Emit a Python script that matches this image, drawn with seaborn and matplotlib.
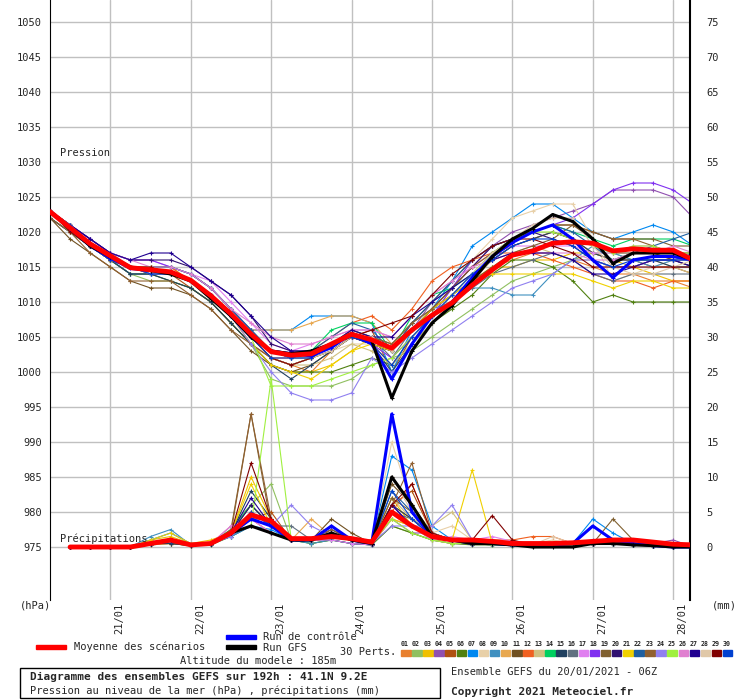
import numpy as np
import pandas as pd
import seaborn as sns
import matplotlib.pyplot as plt
from matplotlib.patches import Rectangle
from matplotlib.transforms import blended_transform_factory

# hours since 20/01/2021 06Z, every 6h
hours = list(range(0, 193, 6))
precip_hours = hours[1:]
day_labels = ['21/01', '22/01', '23/01', '24/01', '25/01', '26/01', '27/01', '28/01']
day_hours = [18, 42, 66, 90, 114, 138, 162, 186]

member_colors = ['#e8802f', '#90c060', '#f0c000', '#9050b0', '#b05010', '#508010', '#0088f0', '#e8d0a8',
                 '#4090c0', '#e8a850', '#705020', '#f06020', '#d0c080', '#00d060', '#204060', '#607080',
                 '#e080f0', '#8030f0', '#806030', '#301070', '#f0d000', '#2060a0', '#906030', '#9080f0',
                 '#a0f040', '#e080d0', '#200090', '#e0c8a8', '#800000', '#0040d0']

pressure = [
    [1023,1020,1018,1016,1015,1014,1014,1013,1011,1008,1005,1002,1001,1000,1003,1005,1004,1001,1005,1008,1010,1013,1015,1016,1017,1017,1016,1015,1014,1014,1013,1013,1012],
    [1022,1020,1018,1016,1014,1013,1013,1012,1010,1007,1004,999,998,998,998,999,1001,1002,1003,1005,1007,1009,1011,1013,1014,1015,1016,1017,1017,1016,1016,1016,1015],
    [1023,1021,1018,1016,1015,1015,1015,1013,1011,1008,1004,1001,1000,1000,1001,1003,1005,1004,1007,1009,1011,1013,1015,1015,1016,1016,1017,1017,1016,1015,1014,1013,1013],
    [1023,1021,1019,1017,1015,1015,1015,1014,1012,1009,1006,1003,1002,1003,1004,1005,1004,1003,1006,1010,1012,1015,1018,1020,1021,1022,1023,1024,1026,1026,1026,1025,1022],
    [1022,1020,1018,1016,1014,1014,1014,1012,1010,1007,1004,1002,1001,1002,1003,1005,1006,1000,1005,1008,1011,1014,1016,1018,1019,1020,1019,1017,1016,1016,1015,1015,1014],
    [1023,1020,1018,1016,1014,1014,1013,1012,1010,1007,1004,1001,1000,1000,1000,1001,1002,1001,1004,1007,1009,1011,1014,1016,1016,1015,1013,1010,1011,1010,1010,1010,1010],
    [1023,1021,1018,1016,1015,1015,1015,1014,1012,1009,1006,1006,1006,1008,1008,1008,1007,1000,1006,1009,1013,1018,1020,1022,1024,1024,1022,1020,1019,1020,1021,1020,1018],
    [1023,1021,1018,1017,1015,1015,1015,1014,1012,1009,1006,1003,1002,1002,1003,1004,1004,1002,1005,1008,1012,1016,1019,1022,1023,1024,1024,1019,1013,1014,1015,1016,1016],
    [1022,1020,1018,1016,1014,1014,1014,1013,1011,1008,1005,1003,1002,1003,1004,1006,1005,1004,1007,1009,1010,1012,1012,1011,1011,1014,1016,1018,1017,1016,1015,1016,1017],
    [1023,1021,1018,1016,1015,1015,1015,1014,1012,1009,1006,1006,1006,1007,1008,1008,1007,1004,1006,1009,1012,1015,1017,1018,1019,1020,1019,1017,1016,1017,1017,1016,1015],
    [1022,1019,1017,1015,1013,1012,1012,1011,1009,1006,1003,1001,1000,1001,1003,1005,1004,1003,1007,1010,1013,1016,1018,1019,1020,1021,1021,1019,1017,1017,1017,1016,1016],
    [1023,1021,1018,1016,1015,1015,1015,1013,1011,1008,1005,1002,1002,1003,1005,1007,1008,1006,1009,1013,1015,1016,1017,1017,1017,1016,1015,1014,1013,1013,1012,1013,1013],
    [1023,1020,1018,1016,1015,1014,1014,1013,1011,1008,1005,1002,1001,1001,1002,1004,1003,1001,1004,1007,1010,1013,1016,1017,1018,1017,1016,1016,1015,1015,1016,1015,1014],
    [1023,1021,1018,1016,1015,1015,1015,1014,1012,1009,1006,1003,1002,1003,1006,1007,1007,1003,1008,1011,1012,1014,1017,1019,1020,1021,1020,1019,1018,1019,1019,1019,1018],
    [1022,1020,1018,1016,1014,1014,1013,1012,1010,1007,1004,1001,999,1001,1003,1005,1004,1000,1004,1008,1011,1014,1016,1018,1019,1020,1019,1017,1016,1016,1016,1015,1015],
    [1023,1021,1018,1016,1015,1014,1014,1013,1011,1008,1005,1003,1002,1002,1003,1005,1005,1002,1006,1008,1010,1012,1014,1015,1016,1017,1016,1014,1013,1014,1014,1014,1014],
    [1023,1021,1019,1017,1016,1016,1015,1014,1013,1010,1007,1004,1003,1004,1005,1006,1006,1005,1008,1011,1013,1015,1017,1018,1018,1018,1018,1017,1017,1018,1018,1017,1017],
    [1023,1021,1019,1017,1016,1016,1015,1014,1012,1009,1006,1003,1002,1003,1004,1005,1004,1002,1005,1008,1012,1016,1018,1019,1020,1021,1022,1024,1026,1027,1027,1026,1024],
    [1023,1021,1018,1016,1015,1014,1014,1013,1011,1008,1005,1002,1001,1002,1003,1005,1005,1003,1006,1009,1011,1013,1015,1017,1018,1019,1021,1020,1019,1019,1019,1018,1018],
    [1023,1021,1019,1017,1016,1016,1016,1015,1013,1011,1008,1004,1003,1003,1004,1005,1004,1003,1006,1009,1012,1015,1018,1019,1020,1019,1018,1016,1015,1015,1016,1016,1015],
    [1023,1021,1018,1016,1015,1015,1014,1013,1011,1008,1004,1001,1000,999,1001,1003,1004,1003,1006,1009,1011,1013,1014,1014,1014,1014,1014,1013,1012,1013,1013,1012,1012],
    [1023,1021,1018,1016,1015,1015,1015,1014,1012,1009,1006,1003,1002,1003,1005,1007,1006,1003,1007,1010,1013,1016,1018,1019,1020,1021,1020,1018,1016,1017,1018,1019,1020],
    [1022,1020,1017,1015,1013,1013,1013,1011,1009,1006,1004,1002,1001,1002,1004,1006,1005,1004,1007,1009,1012,1015,1017,1019,1020,1021,1021,1020,1019,1019,1018,1017,1017],
    [1023,1020,1018,1016,1015,1014,1014,1013,1011,1008,1004,1000,997,996,996,997,1002,1000,1002,1004,1006,1008,1010,1012,1013,1014,1016,1016,1015,1015,1016,1016,1016],
    [1023,1020,1018,1016,1015,1015,1014,1013,1011,1008,1005,998,998,998,999,1000,1001,1002,1005,1008,1011,1014,1017,1019,1020,1020,1019,1018,1017,1018,1018,1017,1017],
    [1023,1021,1018,1017,1016,1015,1015,1014,1012,1009,1007,1005,1004,1004,1005,1006,1006,1005,1008,1011,1013,1015,1016,1017,1017,1017,1017,1016,1016,1017,1017,1018,1017],
    [1023,1021,1019,1017,1016,1017,1017,1015,1013,1011,1008,1005,1003,1003,1004,1006,1005,1005,1008,1010,1012,1014,1016,1017,1017,1017,1016,1014,1014,1015,1016,1016,1015],
    [1023,1021,1018,1016,1015,1015,1014,1013,1011,1008,1005,1002,1001,1002,1003,1005,1005,1003,1006,1008,1011,1014,1017,1019,1021,1022,1022,1018,1015,1014,1014,1015,1016],
    [1023,1020,1018,1016,1015,1015,1014,1013,1011,1008,1005,1002,1001,1002,1004,1005,1006,1007,1008,1011,1014,1016,1018,1019,1019,1018,1017,1015,1015,1015,1015,1015,1015],
    [1023,1021,1018,1016,1015,1014,1014,1013,1011,1008,1005,1002,1002,1002,1004,1005,1004,1001,1005,1008,1011,1014,1016,1018,1019,1019,1018,1016,1015,1016,1016,1016,1016],
]

precip = [
    [0,0,0,0,.5,1,.3,.5,2,5,3,1,1,1.5,1,.5,6,4,1.5,1,.5,.5,.3,.3,.3,.5,.8,.8,.5,.3,.2,0],
    [0,0,0,0,.3,.5,.2,.4,3,6,9,1,.5,1,.5,.3,3,2,1,.5,.5,.3,.2,.2,.3,.3,.5,.5,.3,.2,0,0],
    [0,0,0,0,1,1.5,.5,1,2,10,4,1,1,2,1,.5,7,3,1,1,.5,.5,.3,.5,.5,.3,.5,.5,.3,.2,.2,0],
    [0,0,0,0,.5,1,.3,.5,1.5,3,2,1,1,2,1,.3,4,2,2,1,.5,.5,.5,.3,.3,.5,1,1,.5,.5,1,0],
    [0,0,0,0,.5,.8,.2,.5,2,4,5,1,1,1.5,1,1,6,8,2,1,.5,.5,.3,.3,.3,.5,.5,.8,.5,.3,.2,0],
    [0,0,0,0,.5,.5,.2,.3,1.5,3,2,1,.5,1,.5,.3,3,2,1,.5,.3,.3,.2,.2,.3,.3,.5,.5,.3,.2,0,0],
    [0,0,0,0,1,2,.5,.5,1.5,3,2.5,1,1,1.5,1,.5,13,11,3,1,.5,.5,.3,.3,.5,.5,4,2,.5,.3,.2,0],
    [0,0,0,0,.5,1,.3,.5,2,4,2,1,1,2,1,.5,15,6,2,3,1,.5,.3,.5,1,.5,.5,.8,.5,.3,.2,0],
    [0,0,0,0,1.5,2.5,.3,.5,1.5,3,2,1,.5,1,.5,.3,6,3,1,.5,.5,.3,.2,.2,.3,.3,.5,.5,.3,.2,0,0],
    [0,0,0,0,.5,1,.3,.5,2,3,2,1,4,1.5,1,.5,4,3,1,.5,.5,.3,.3,.3,.3,.5,.5,.8,.5,.3,.2,0],
    [0,0,0,0,.5,.5,.3,.5,2,6,3,1,1,4,2,.5,9,6,2,1,.5,.5,.3,.3,.3,.5,.5,.5,.3,.2,0,0],
    [0,0,0,0,.3,.5,.2,.5,2,4,2,1,1,1.5,1,.5,5,9,2,1,1,1,1,1.5,1.5,.5,.5,.5,.3,.2,0,0],
    [0,0,0,0,.5,1,.3,.5,2,5,3,1,1,3,1,.5,7,4,3,5,1,.5,.3,.3,.5,.5,.8,.8,.5,.3,.2,0],
    [0,0,0,0,.5,.8,.3,.5,2.5,6,3,1,1,1.5,1,.3,5,3,1.5,1,1,.5,.3,.3,.3,.5,.5,.5,.3,.2,0,0],
    [0,0,0,0,.5,.5,.2,.5,2,8,4,1,1,1,.5,.3,6,4,1.5,1,.5,.3,.2,.2,.3,.3,.5,.5,.3,.2,0,0],
    [0,0,0,0,.5,.8,.3,.5,1.5,5,3,3,1,1.5,1,.5,5,4,2,1,.5,.5,.3,.3,.3,.5,.5,.5,.3,.2,0,0],
    [0,0,0,0,.8,1,.3,.5,3,4,2,1,1,1,.5,.3,4,3,1,1.5,1,1.5,.8,.3,.3,.5,.5,.8,.5,.3,.2,0],
    [0,0,0,0,.5,.8,.3,.5,2,3,2,1,1,1.5,1,.5,6,3,2,1,.5,.5,.3,.3,.5,.5,.5,.5,.3,.2,0,0],
    [0,0,0,0,.5,.8,.3,.5,2.5,19,3,1,1,2,1,.5,7,5,2,1,.5,.5,.3,.3,.3,.5,.5,4,1,.5,.2,0],
    [0,0,0,0,.5,1,.3,.5,2,6,3,1,1,2.5,1,.5,5,3,1.5,1,.5,.5,.3,.3,.3,.5,.5,.8,.5,.3,.2,0],
    [0,0,0,0,1,2,.5,.5,2,9,3,1,1,1.5,1,.5,4,3,1.5,1,11,.5,.3,.3,.5,.5,.8,.5,.3,.2,.2,0],
    [0,0,0,0,.5,1,.3,.5,2,4,4,1,1,2,1,.5,8,5,1.5,1,.5,.3,.3,.3,.3,.5,.5,.5,.3,.2,0,0],
    [0,0,0,0,.5,.8,.3,.5,2,19,4,1,1,2.5,1,.5,6,12,2,1,.5,.5,.3,.3,.3,.5,.5,.8,.5,.3,.2,0],
    [0,0,0,0,.5,1,.3,.5,1.5,4,3,6,3,1.5,1,.5,3,3,3,6,1,.5,.3,.3,.3,.5,.5,.5,.3,.2,0,0],
    [0,0,0,0,.5,1,.3,.5,2,3,24,1,1,1.5,1,.5,4,2,1,.5,.5,.3,.2,.2,.3,.3,.5,.5,.3,.2,0,0],
    [0,0,0,0,.5,1,.3,.5,3,4,3,1,1,1.5,1,.5,5,3,1.5,1,1,1,.5,.5,.5,.5,.8,.8,.5,.3,.2,0],
    [0,0,0,0,.5,.8,.3,.5,2,7,3,1,1,2,1,.5,6,3,1.5,1,.5,.5,.3,.3,.3,.5,.5,.5,.3,.2,0,0],
    [0,0,0,0,.5,1,.3,.5,2,5,3,1,1,1.5,1,.5,10,5,2,1,.5,.5,.3,.3,1.5,.5,.5,.5,.3,.2,0,0],
    [0,0,0,0,.5,1,.3,.5,2,12,4,1,1,1.5,1,.5,6,9,2,1,1,4.5,1,.3,.3,.5,.5,.8,.5,.3,.2,0],
    [0,0,0,0,.5,.8,.3,.5,2,5,3,1,1,1.5,1,.5,8,4,1.5,1,.5,.5,.3,.3,.3,.5,.5,.5,.3,.2,0,0],
]

control_p = [1023,1020.5,1018,1016.3,1014.8,1014.5,1014.3,1013,1011,1008,1005,1003,1002.6,1002.3,1003.5,1005.5,1004,999,1004,1008,1010,1013.5,1016.5,1018.5,1020,1021,1019,1016,1013.5,1016,1016.5,1016.5,1016]
gfs_p = [1023,1020.5,1018,1016.5,1015,1014.5,1014,1013,1010.5,1008,1005,1003,1002.6,1003,1004,1005.5,1004.5,996.3,1003,1007,1009.5,1013,1016.5,1019,1020.5,1022.5,1021.5,1019,1015.5,1017,1017,1017,1016]
mean_p = [1022.9,1020.6,1018.3,1016.6,1014.9,1014.6,1014.3,1013.1,1010.9,1008.3,1005.4,1002.9,1002.4,1002.6,1004,1005.4,1004.6,1003.4,1006,1008.1,1009.9,1012.4,1014.6,1016.7,1017.3,1018.4,1018.6,1018.4,1017.3,1017.6,1017.4,1017.4,1016]
control_r = [0,0,0,0,.5,1,.3,.5,2,4,3,1,1,3,1,.5,19,5,1.5,1,.5,.5,.3,.3,.3,.5,3,1,.5,.2,0,0]
gfs_r = [0,0,0,0,.5,1,.3,.5,2,3,2,1,1,2,1,.5,10,6,1.5,1,.5,.5,.3,0,0,0,.5,.5,.3,.2,0,0]
mean_r = [0,0,0,0,.5,1,.3,.5,2,4.6,3.7,1.2,1.2,1.5,1.2,.7,5,3,1.5,1,1,.8,.5,.5,.5,.6,.8,1,1,.7,.4,.3]

sns.set_style('white')
plt.rcParams['font.family'] = ['DejaVu Sans Mono']
fig = plt.figure(figsize=(7.4, 7.0), dpi=100)
ax = fig.add_axes([50 / 740, 1 - 600 / 700, 640 / 740, 600 / 700])


def draw(x, y, color, lw, marker='+', ms=3, z=2):
    sns.lineplot(x=x, y=y, color=color, lw=lw, marker=marker, markersize=ms,
                 markeredgewidth=0.8, markeredgecolor=color, ax=ax, zorder=z)


for col, p, r in zip(member_colors, pressure, precip):
    draw(hours, p, col, 0.8)
    draw(precip_hours, [975 + v for v in r], col, 0.8)

draw(hours, control_p, '#0000ff', 2.2, z=4)
draw(precip_hours, [975 + v for v in control_r], '#0000ff', 2.2, z=4)
draw(hours, gfs_p, 'black', 2.2, z=4)
draw(precip_hours, [975 + v for v in gfs_r], 'black', 2.2, z=4)
draw(hours, mean_p, '#ff0000', 3.5, marker=None, z=5)
draw(precip_hours, [975 + v for v in mean_r], '#ff0000', 3.5, marker=None, z=5)

ax.set_xlim(0, 191)
ax.set_ylim(975 - 53 / 7, 975 + 547 / 7)
ax.set_xticks(day_hours)
ax.set_xticklabels([])
ax.set_yticks(range(975, 1051, 5))
ax.tick_params(axis='y', length=0, labelsize=7.5, pad=6)
ax.tick_params(axis='x', length=0)
ax.grid(True, color='#c0c0c0', lw=1)
for s in ['top', 'bottom']:
    ax.spines[s].set_visible(False)
ax.spines['left'].set_color('black')
ax.spines['right'].set_color('black')
ax.spines['right'].set_linewidth(1.5)

ax2 = ax.twinx()
ax2.set_ylim(ax.get_ylim())
ax2.set_yticks(range(975, 1051, 5))
ax2.set_yticklabels([str(v - 975) for v in range(975, 1051, 5)])
ax2.tick_params(axis='y', length=0, labelsize=7.5, pad=12)
for s in ax2.spines.values():
    s.set_visible(False)

trans = blended_transform_factory(ax.transData, ax.transAxes)
for h, lab in zip(day_hours, day_labels):
    ax.text(h + 1.2, -0.005, lab, transform=trans, rotation=90, ha='left', va='top', fontsize=7.5)

ax.text(3, 1030.5, 'Pression', fontsize=7.5, va='bottom')
ax.text(3, 975.5, 'Précipitations', fontsize=7.5, va='bottom')


def ft(x, y, s, **kw):
    fig.text(x / 740, 1 - y / 700, s, va='center', **kw)


ft(20, 606, '(hPa)', fontsize=7.5)
ft(712, 606, '(mm)', fontsize=7.5)
fig.add_artist(Rectangle((36 / 740, 1 - 649 / 700), 30 / 740, 4 / 700, color='#ff0000', transform=fig.transFigure))
ft(74, 647, 'Moyenne des scénarios', fontsize=7.5)
fig.add_artist(Rectangle((226 / 740, 1 - 639 / 700), 30 / 740, 4 / 700, color='#0000ff', transform=fig.transFigure))
ft(263, 637, 'Run de contrôle', fontsize=7.5)
fig.add_artist(Rectangle((226 / 740, 1 - 649 / 700), 30 / 740, 4 / 700, color='black', transform=fig.transFigure))
ft(263, 648, 'Run GFS', fontsize=7.5)
ft(340, 652, '30 Perts.', fontsize=7.5)
for i, col in enumerate(member_colors):
    x0 = 401 + i * 11.1
    ft(x0, 644, '%02d' % (i + 1), fontsize=4.8, fontweight='bold')
    fig.add_artist(Rectangle((x0 / 740, 1 - 656 / 700), 9.5 / 740, 6 / 700, color=col, transform=fig.transFigure))
ft(180, 661, 'Altitude du modele : 185m', fontsize=7.5)
fig.add_artist(Rectangle((20 / 740, 1 - 698 / 700), 420 / 740, 30 / 700, fill=False, ec='black', lw=1,
                         transform=fig.transFigure))
ft(30, 677, 'Diagramme des ensembles GEFS sur 192h : 41.1N 9.2E', fontsize=8, fontweight='bold')
ft(30, 691, 'Pression au niveau de la mer (hPa) , précipitations (mm)', fontsize=7.5)
ft(451, 672, 'Ensemble GEFS du 20/01/2021 - 06Z', fontsize=7.5)
ft(451, 692, 'Copyright 2021 Meteociel.fr', fontsize=8, fontweight='bold')

fig.savefig('out.png', dpi=100, facecolor='white')
